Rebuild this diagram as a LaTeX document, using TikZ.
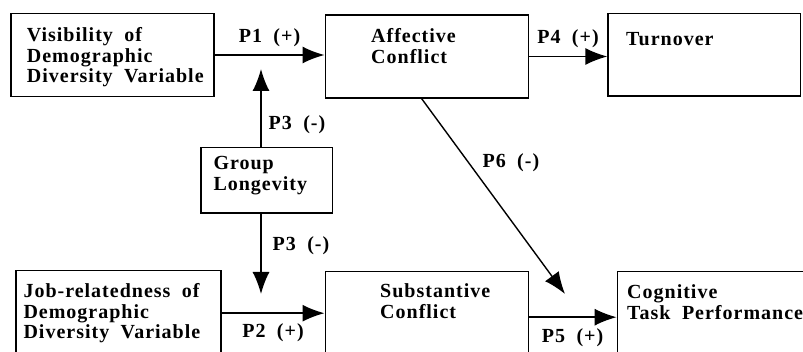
\documentclass[tikz,border=0pt]{standalone}
\usepackage{fontspec}
\setmainfont{Liberation Serif}[LetterSpace=5,WordSpace=1.9]
\usetikzlibrary{arrows.meta,positioning,calc}

\begin{document}
\begin{tikzpicture}[x=1pt,y=-1pt,>={Latex[length=22pt,width=17pt]},
    box/.style={draw,line width=1.2pt,inner sep=0pt},
    txt/.style={anchor=base west,inner sep=0pt,align=left,font=\fontsize{20}{20.5}\selectfont\bfseries},
    plabel/.style={inner sep=0pt,font=\fontsize{20}{20.5}\selectfont\bfseries},
    link/.style={->,line width=1.4pt}]
    \useasboundingbox (0,0) rectangle (803,352);
    \clip (0,0) rectangle (803,352);
    % boxes
    \node[box,minimum width=203pt,minimum height=83.5pt] (vis) at (112.5,55) {};
    \node[box,minimum width=203pt,minimum height=83pt] (ac) at (426.6,56.5) {};
    \node[box,minimum width=192.7pt,minimum height=82.7pt] (turn) at (704.3,54.7) {};
    \node[box,minimum width=131.7pt,minimum height=65.7pt] (gl) at (266.9,180.2) {};
    \node[box,minimum width=205pt,minimum height=85pt] (job) at (118.5,313.2) {};
    \node[box,minimum width=203pt,minimum height=85pt] (sub) at (426.6,314.2) {};
    \node[box,minimum width=200pt,minimum height=85pt] (cog) at (717.2,314.2) {};
    % texts (base = last line)
    \node[txt] (vis-t) at (26.7,83) {Visibility of\\Demographic\\Diversity Variable};
    \node[txt] (ac-t) at (371,63.5) {Affective\\Conflict};
    \node[txt] (turn-t) at (626,45.5) {Turnover};
    \node[txt] (gl-t) at (213.3,190.5) {Group\\Longevity};
    \node[txt] (job-t) at (23.3,339) {Job-relatedness of\\Demographic\\Diversity Variable};
    \node[txt] (sub-t) at (380,318.5) {Substantive\\Conflict};
    \node[txt] (cog-t) at (627,319.5) {Cognitive\\Task Performance};
    % free ends
    \coordinate (up) at (261,69);
    \coordinate (down) at (261,294);
    \coordinate (p6end) at (565,294);
    % links
    \draw[link] (vis.east) -- (vis.east -| ac.west) node[plabel,above=8pt,midway] (p1) {P1 (+)};
    \draw[link] (ac.east) -- (ac.east -| turn.west) node[plabel,above=8pt,midway] (p4) {P4 (+)};
    \draw[link] (job.east) -- (job.east -| sub.west) node[plabel,below=10pt,midway] (p2) {P2 (+)};
    \draw[link] ($(sub.east)+(0,3)$) -- ($(sub.east -| cog.west)+(0,3)$) node[plabel,below=11pt,midway] (p5) {P5 (+)};
    \draw[link] (gl.north -| up) -- (up) node[plabel,right=7pt,pos=0.29] (p3a) {P3 (-)};
    \draw[link] (gl.south -| down) -- (down) node[plabel,right=11pt,pos=0.4] (p3b) {P3 (-)};
    \draw[link] ($(ac.south)+(-5,0)$) -- (p6end) node[plabel,right=13pt,pos=0.33] (p6) {P6 (-)};
\end{tikzpicture}
\end{document}
